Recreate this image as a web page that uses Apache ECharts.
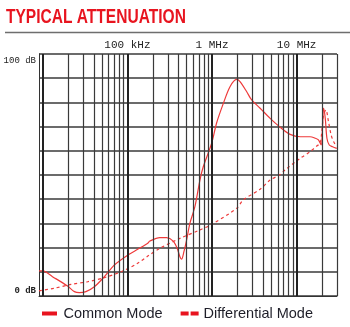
<!DOCTYPE html>
<html>
<head>
<meta charset="utf-8">
<script src="https://cdn.jsdelivr.net/npm/echarts@6/dist/echarts.min.js"></script>
<style>html,body{margin:0;padding:0;background:#fff}#c{width:350px;height:327px}</style>
</head>
<body>
<div id="c"></div>
<script>
// Frequencies in Hz, attenuation in dB
const commonFreq = [9.0e3,10e3,13.0e3,19.6e3,23.6e3,27.0e3,32.3e3,40.6e3,53.4e3,70.1e3,101e3,132e3,174e3,184e3,241e3,290e3,347e3,387e3,417e3,436e3,465e3,500e3,547e3,627e3,719e3,787e3,989e3,1.13e6,1.36e6,1.63e6,1.95e6,2.14e6,2.57e6,2.94e6,3.70e6,4.86e6,6.26e6,8.37e6,11.0e6,14.4e6,16.6e6,18.1e6,19.5e6,20.2e6,20.8e6,21.8e6,22.8e6,24.3e6,26.6e6,29.8e6];
const commonDb   = [10.4,10.4,8.0,4.1,1.8,1.4,1.8,3.8,8.0,12.8,16.9,19.3,21.8,22.7,24.1,24.1,22.7,19.7,16.2,15.2,18.3,23.1,30.0,36.9,47.9,53.4,63.1,71.4,79.6,86.5,89.5,88.6,84.4,81.0,77.6,73.4,70.0,66.8,65.8,65.8,65.2,64.5,62.4,69.3,77.6,73.4,65.2,62.4,61.7,61.0];
const diffFreq = [9.0e3,13.6e3,21.5e3,33.9e3,53.4e3,84.0e3,132e3,174e3,241e3,417e3,719e3,989e3,1.95e6,2.34e6,3.70e6,4.86e6,6.26e6,7.31e6,11.0e6,14.4e6,17.3e6,19.0e6,20.8e6,22.2e6,23.8e6,25.6e6,27.3e6,29.8e6];
const diffDb   = [2.1,3.2,4.8,5.9,7.6,10.0,13.5,16.5,19.7,23.8,27.3,29.6,36.2,39.7,44.1,47.9,50.0,52.1,56.9,59.6,62.0,63.1,74.8,76.9,72.0,66.5,63.8,61.7];
const gridFreqs = [10e3,20e3,30e3,40e3,50e3,60e3,70e3,80e3,90e3,100e3,200e3,300e3,400e3,500e3,600e3,700e3,800e3,900e3,1e6,2e6,3e6,4e6,5e6,6e6,7e6,8e6,9e6,10e6,20e6,30e6];
const decadeFreqs = [10e3,100e3,1e6,10e6];
const xTickLabels = {5:'100 kHz',6:'1 MHz',7:'10 MHz'};
const yTickLabels = {0:'0 dB',100:'100 dB'};
const titleText = 'TYPICAL ATTENUATION';

const red = '#ee3a3a';
const chart = echarts.init(document.getElementById('c'), null, {renderer:'canvas'});
const zip = (a,b) => a.map((v,i)=>[v,b[i]]);

chart.setOption({
  animation:false,
  graphic:[
    {type:'text',x:6,y:7,scaleX:0.74,style:{text:titleText,font:'bold 21px "Liberation Sans", Arial, sans-serif',fill:'#e8141f'}},
    {type:'line',shape:{x1:5,y1:32.5,x2:350,y2:32.5},style:{stroke:'#6e6e6e',lineWidth:1.6}}
  ],
  legend:{
    left:37, top:301, itemGap:18, itemWidth:18, itemHeight:4, selectedMode:false,
    textStyle:{fontFamily:'Liberation Sans, sans-serif',fontSize:14.5,color:'#1e1e28'},
    data:[
      {name:'Common Mode',icon:'path://M0,0H15V4H0Z',itemStyle:{color:'#e8141f'}},
      {name:'Differential Mode',icon:'path://M0,0H8V4H0Z M10,0H18V4H10Z',itemStyle:{color:'#e8141f'}}
    ]
  },
  grid:{left:39,right:13,top:54,bottom:31},
  xAxis:{
    type:'log', min:9000, max:3e7, position:'top',
    axisLine:{show:true,lineStyle:{color:'#333',width:1}},
    axisTick:{show:false}, splitLine:{show:false},
    axisLabel:{margin:3,fontFamily:'Liberation Mono',fontSize:11,color:'#222',
      formatter:v=>{const k=Math.round(Math.log10(v)); return Math.abs(Math.log10(v)-k)<1e-6 && xTickLabels[k] ? xTickLabels[k] : '';}}
  },
  yAxis:{
    type:'value', min:0, max:100, interval:10,
    axisLine:{show:true,lineStyle:{color:'#333',width:1}},
    axisTick:{show:false},
    splitLine:{show:true,lineStyle:{color:'#3a3a3a',width:1.5}},
    axisLabel:{margin:3,fontFamily:'Liberation Mono',fontSize:9,color:'#222',
      formatter:v=> v===100?'{t|'+yTickLabels[100]+'}': v===0?'{b|'+yTickLabels[0]+'}':'',
      rich:{t:{padding:[14,0,0,0],fontFamily:'Liberation Mono',fontSize:9,color:'#222'},
            b:{padding:[0,0,11,0],fontFamily:'Liberation Mono',fontSize:9,fontWeight:'bold',color:'#222'}}}
  },
  series:[
    {type:'line',name:'grid',data:[],silent:true,
     markLine:{silent:true,symbol:['none','none'],label:{show:false},
       data:gridFreqs.map(f=>({xAxis:f,lineStyle:{type:'solid',color:decadeFreqs.includes(f)?'#222':'#3a3a3a',width:decadeFreqs.includes(f)?2:1.2}}))}},
    {type:'line',name:'Common Mode',data:zip(commonFreq,commonDb),showSymbol:false,smooth:0.3,
     lineStyle:{color:red,width:1.2},itemStyle:{color:'#e8141f'}},
    {type:'line',name:'Differential Mode',data:zip(diffFreq,diffDb),showSymbol:false,smooth:0.3,
     lineStyle:{color:red,width:1.2,type:[3,3]},itemStyle:{color:'#e8141f'}}
  ]
});
</script>
</body>
</html>
